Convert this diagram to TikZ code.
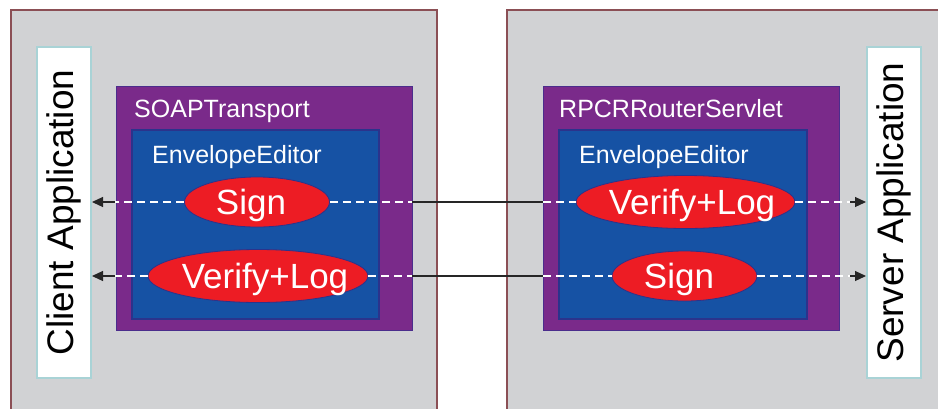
\documentclass[tikz,border=0pt]{standalone}
\usepackage{fontspec}
\setmainfont{Liberation Sans}
\usetikzlibrary{shapes.geometric,arrows.meta}
\definecolor{graybg}{HTML}{D1D2D4}
\definecolor{grayedge}{HTML}{8B4F55}
\definecolor{purp}{HTML}{7A2A8A}
\definecolor{purpedge}{HTML}{4B2D8C}
\definecolor{blu}{HTML}{1652A4}
\definecolor{bluedge}{HTML}{2B338C}
\definecolor{redell}{HTML}{ED1C24}
\definecolor{appedge}{HTML}{A9D3D6}
\tikzset{
  hostbox/.style={fill=graybg,draw=grayedge,line width=2pt},
  appbox/.style={fill=white,draw=appedge,line width=2pt,inner sep=0pt},
  applbl/.style={rotate=90,font=\fontsize{37}{40}\selectfont},
  outerbox/.style={fill=purp,draw=purpedge,line width=1pt},
  innerbox/.style={fill=blu,draw=bluedge,line width=1.5pt},
  boxlabel/.style={text=white,font=\fontsize{25}{30}\selectfont,anchor=base west,inner sep=0pt},
  op/.style={ellipse,fill=redell,draw=bluedge,line width=0.8pt,inner sep=0pt},
  optext/.style={text=white,font=\fontsize{35}{40}\selectfont,inner sep=0pt},
  wdash/.style={draw=white,line width=1.2pt,dash pattern=on 8pt off 5pt},
  wire/.style={draw=black!85,line width=2.5pt},
  arr/.style={draw=black!85,line width=1.2pt,-{Triangle[length=11pt,width=10pt]}}
}
\begin{document}
\begin{tikzpicture}[x=1pt,y=-1pt]
\useasboundingbox (0,0) rectangle (938,408);
\clip (0,0) rectangle (938,408);
\fill[white] (0,0) rectangle (938,408);
% host boxes
\draw[hostbox] (11,10) rectangle (437,430);
\draw[hostbox] (507,10) rectangle (960,430);
% application boxes
\node[appbox,minimum width=54pt,minimum height=331pt] (client) at (64,212.5) {};
\node[applbl] (clientlbl) at (client.center) {Client Application};
\node[appbox,minimum width=54pt,minimum height=331pt] (server) at (894,212.5) {};
\node[applbl] (serverlbl) at (server.center) {Server Application};
% left stack
\draw[outerbox] (116,86) rectangle (412,330);
\coordinate (soapE) at (412,208);
\node[boxlabel] (soaplbl) at (134,117) {SOAPTransport};
\draw[innerbox] (132,130) rectangle (379,319);
\node[boxlabel] (envL) at (152,163) {EnvelopeEditor};
\node[op,minimum width=145pt,minimum height=50pt] (sL) at (257,202) {};
\node[optext] (sLt) at (251,205) {Sign};
\node[op,minimum width=220pt,minimum height=53pt] (vL) at (258,276) {};
\node[optext] (vLt) at (265,279) {Verify+Log};
% right stack
\draw[outerbox] (543,86) rectangle (839,330);
\coordinate (rpcW) at (543,208);
\coordinate (rpcE) at (850,208);
\node[boxlabel] (rpclbl) at (559,117) {RPCRRouterServlet};
\draw[innerbox] (559,130) rectangle (807,319);
\node[boxlabel] (envR) at (579,163) {EnvelopeEditor};
\node[op,minimum width=219pt,minimum height=53pt] (vR) at (685.5,202) {};
\node[optext] (vRt) at (692,205) {Verify+Log};
\node[op,minimum width=145pt,minimum height=50pt] (sR) at (684.5,276) {};
\node[optext] (sRt) at (679,279) {Sign};
% left arrows
\coordinate (tL) at (115,0);
\draw[wdash] (sL.west) -- (sL.west -| tL);
\draw[arr] (sL.west -| tL) -- (sL.west -| client.east);
\draw[wdash] (vL.west) -- (vL.west -| tL);
\draw[arr] (vL.west -| tL) -- (vL.west -| client.east);
% middle wires
\draw[wdash] (sL.east) -- (sL.east -| soapE);
\draw[wire] (sL.east -| soapE) -- (sL.east -| rpcW);
\draw[wdash] (sL.east -| rpcW) -- (vR.west);
\draw[wdash] (vL.east) -- (vL.east -| soapE);
\draw[wire] (vL.east -| soapE) -- (vL.east -| rpcW);
\draw[wdash] (vL.east -| rpcW) -- (sR.west);
% right arrows
\draw[wdash] (vR.east) -- (vR.east -| rpcE);
\draw[arr] (vR.east -| rpcE) -- (vR.east -| server.west);
\draw[wdash] (sR.east) -- (sR.east -| rpcE);
\draw[arr] (sR.east -| rpcE) -- (sR.east -| server.west);
\end{tikzpicture}
\end{document}
